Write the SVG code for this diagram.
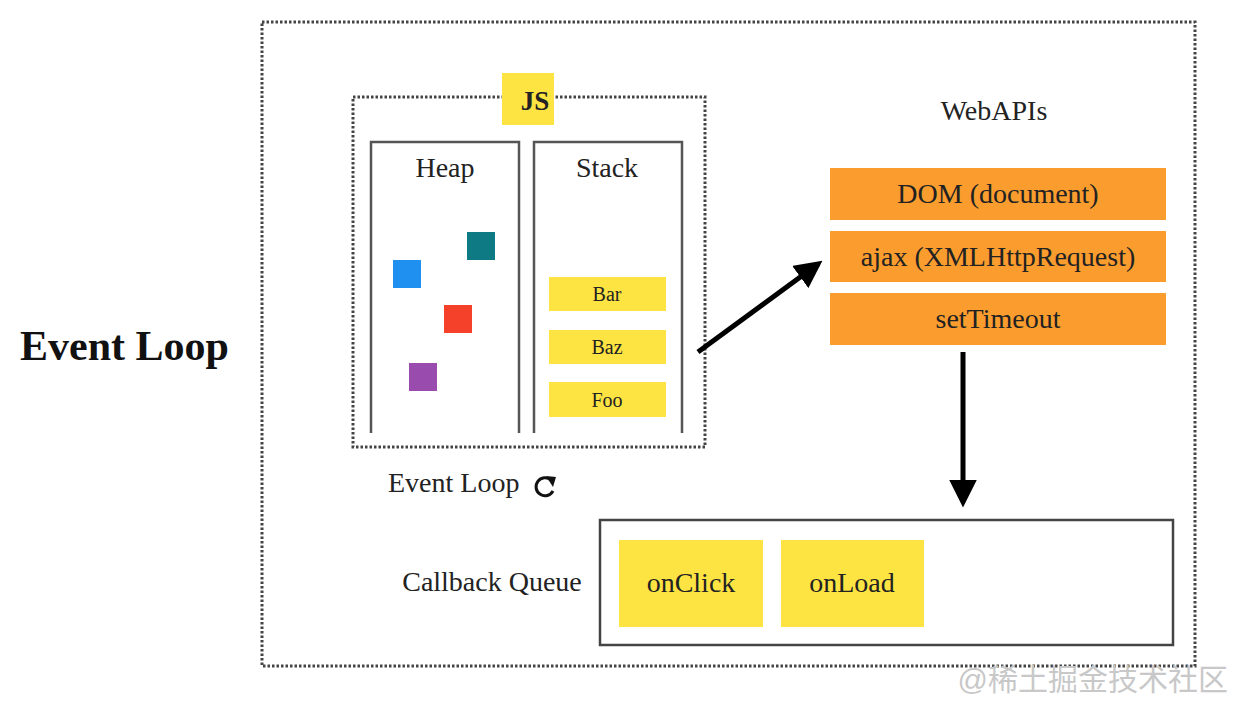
<svg xmlns="http://www.w3.org/2000/svg" width="1244" height="714" viewBox="0 0 1244 714">
<defs>
<style>
text{font-family:"Liberation Serif","Times New Roman",serif;fill:#222;}
.dot{fill:none;stroke:#444;stroke-width:3;stroke-dasharray:2.5 2;}
.panel{fill:none;stroke:#555;stroke-width:2.5;}
.yel{fill:#fde442;}
.org{fill:#fa9d2e;}
.lbl{font-size:28px;text-anchor:middle;}
.sm{font-size:20px;text-anchor:middle;}
.conn{stroke:#000;stroke-width:5;fill:none;}
</style>
<marker id="ah" viewBox="0 0 10 10" refX="8" refY="5" markerWidth="5.5" markerHeight="5.5" orient="auto" markerUnits="strokeWidth">
<path d="M0,0 L10,5 L0,10 z" fill="#000"/>
</marker>
</defs>
<rect width="1244" height="714" fill="#fff"/>
<text x="20" y="360" style="font-size:42px;font-weight:bold;fill:#111">Event Loop</text>
<rect id="outer" class="dot" x="262" y="22" width="933" height="644"/>
<g id="js">
<rect class="dot" x="353" y="97" width="352" height="350"/>
<rect class="yel" x="502" y="73" width="52" height="52"/>
<text x="535" y="110" class="lbl" style="font-weight:bold;font-size:27px">JS</text>
</g>
<g id="heap">
<path class="panel" d="M371,433 V142 H519 V433"/>
<text x="445" y="177" class="lbl">Heap</text>
<rect x="467" y="232" width="28" height="28" fill="#0d7a84"/>
<rect x="393" y="260" width="28" height="28" fill="#2090f0"/>
<rect x="444" y="305" width="28" height="28" fill="#f5402a"/>
<rect x="409" y="363" width="28" height="28" fill="#9a4cae"/>
</g>
<g id="stack">
<path class="panel" d="M534,433 V142 H682 V433"/>
<text x="607" y="177" class="lbl">Stack</text>
<g id="bar"><rect class="yel" x="549" y="277" width="117" height="34"/><text x="607" y="301" class="sm">Bar</text></g>
<g id="baz"><rect class="yel" x="549" y="330" width="117" height="34"/><text x="607" y="354" class="sm">Baz</text></g>
<g id="foo"><rect class="yel" x="549" y="382" width="117" height="35"/><text x="607" y="407" class="sm">Foo</text></g>
</g>
<g id="eventloop">
<text x="388" y="492" style="font-size:28px">Event Loop</text>
<path d="M551,480 A9,9 0 1 0 553,491" fill="none" stroke="#111" stroke-width="3"/>
<path d="M546,476 L556,477 L553,487 z" fill="#111"/>
</g>
<g id="webapis">
<text x="994" y="120" class="lbl">WebAPIs</text>
<g id="dom"><rect class="org" x="830" y="168" width="336" height="52"/><text x="998" y="203" class="lbl">DOM (document)</text></g>
<g id="ajax"><rect class="org" x="830" y="231" width="336" height="51"/><text x="998" y="266" class="lbl">ajax (XMLHttpRequest)</text></g>
<g id="settimeout"><rect class="org" x="830" y="293" width="336" height="52"/><text x="998" y="328" class="lbl">setTimeout</text></g>
</g>
<g id="queue">
<text x="492" y="591" class="lbl">Callback Queue</text>
<rect x="600" y="520" width="573" height="125" fill="none" stroke="#444" stroke-width="2.5"/>
<g id="onclick"><rect class="yel" x="619" y="540" width="144" height="87"/><text x="691" y="592" class="lbl">onClick</text></g>
<g id="onload"><rect class="yel" x="781" y="540" width="143" height="87"/><text x="852" y="592" class="lbl">onLoad</text></g>
</g>
<g id="connectors">
<line class="conn" x1="698" y1="352" x2="818" y2="264" marker-end="url(#ah)"/>
<line class="conn" x1="963" y1="352" x2="963" y2="502" marker-end="url(#ah)"/>
</g>
<text x="1228" y="690" style="font-size:30px;text-anchor:end;fill:#c8c8c8;font-family:'Liberation Sans','Noto Sans CJK SC',sans-serif">@稀土掘金技术社区</text>
</svg>
